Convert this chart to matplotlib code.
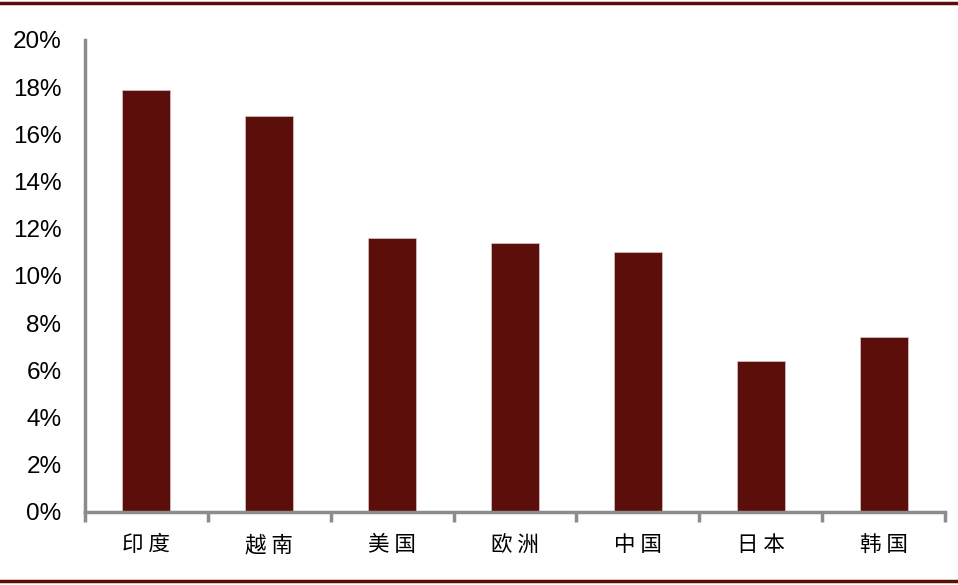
import matplotlib
matplotlib.use("Agg")
import matplotlib.pyplot as plt
from matplotlib.lines import Line2D
from matplotlib.ticker import FuncFormatter, FixedLocator

categories = ["印度", "越南", "美国", "欧洲", "中国", "日本", "韩国"]
values = [17.9, 16.8, 11.6, 11.4, 11.0, 6.4, 7.4]
yticks = [0, 2, 4, 6, 8, 10, 12, 14, 16, 18, 20]

bar_color = "#5C0E0A"
axis_color = "#8C8C8C"

fig = plt.figure(figsize=(9.58, 5.85), dpi=100)
ax = fig.add_axes([85/958, 73/585, 860/958, 472/585])

x = list(range(len(categories)))
ax.bar(x, values, width=0.39, color=bar_color, edgecolor="#D9C8C8", linewidth=0.5)
ax.set_xlim(-0.5, len(categories) - 0.5)
ax.set_ylim(0, 20)
ax.set_yticks(yticks)
ax.yaxis.set_major_formatter(FuncFormatter(lambda v, p: f"{int(v)}%"))
ax.tick_params(axis="y", length=0, pad=17, labelsize=17.5, labelcolor="black")
for lbl in ax.get_yticklabels():
    lbl.set_fontfamily(["Liberation Sans", "DejaVu Sans"])

ax.set_xticks(x)
ax.set_xticklabels([" ".join(c) for c in categories], fontfamily=["Noto Sans CJK SC", "DejaVu Sans"], fontsize=15.5)
ax.tick_params(axis="x", which="major", length=0, pad=16)
ax.xaxis.set_minor_locator(FixedLocator([i - 0.5 for i in range(len(categories) + 1)]))
ax.tick_params(axis="x", which="minor", length=7, width=2.5, color=axis_color, direction="out")

for s in ["top", "right"]:
    ax.spines[s].set_visible(False)
for s in ["left", "bottom"]:
    ax.spines[s].set_color(axis_color)
    ax.spines[s].set_linewidth(2.5)

fig.add_artist(Line2D([0, 1], [1 - 3/585, 1 - 3/585], transform=fig.transFigure, color=bar_color, linewidth=2.5))
fig.add_artist(Line2D([0, 1], [4/585, 4/585], transform=fig.transFigure, color=bar_color, linewidth=2.5))

fig.savefig("out.png", dpi=100)
